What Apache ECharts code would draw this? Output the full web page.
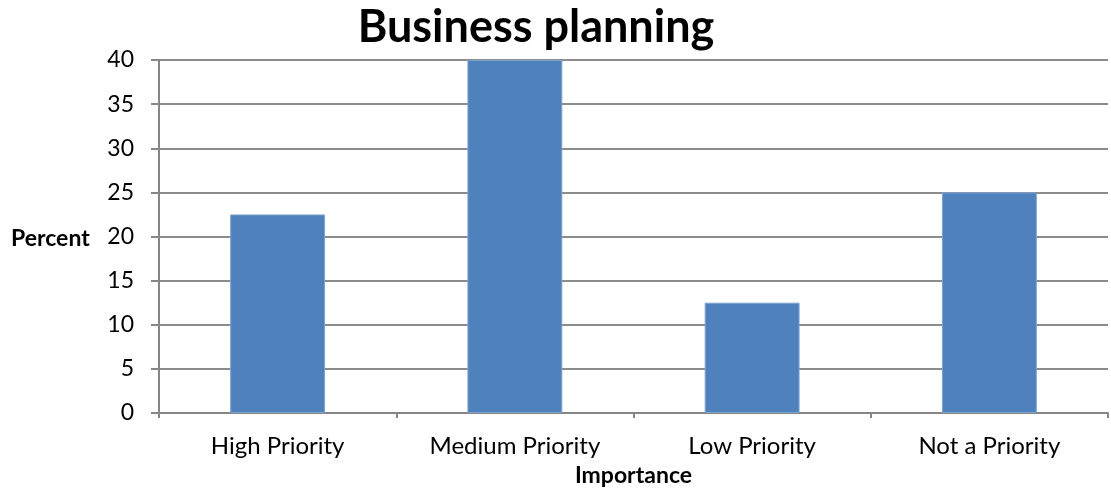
<!DOCTYPE html>
<html>
<head>
<meta charset="utf-8">
<script src="https://cdn.jsdelivr.net/npm/echarts@6/dist/echarts.min.js"></script>
<style>
  html, body { margin: 0; padding: 0; background: #fff; }
  #chart { width: 1111px; height: 497px; }
</style>
</head>
<body>
<div id="chart"></div>
<script>
const categories = ['High Priority', 'Medium Priority', 'Low Priority', 'Not a Priority'];
const percentValues = [22.5, 40, 12.5, 25];
const yTicks = { min: 0, max: 40, interval: 5 };

const FONT = 'Lato';
const chart = echarts.init(document.getElementById('chart'));

chart.setOption({
  animation: false,
  backgroundColor: '#ffffff',
  title: {
    text: 'Business planning',
    left: 531,
    top: 0,
    textAlign: 'center',
    textStyle: { fontFamily: FONT, fontSize: 45, fontWeight: 'bold', color: '#000' }
  },
  grid: { left: 159, right: 3, top: 60, bottom: 84, containLabel: false },
  xAxis: {
    type: 'category',
    data: categories,
    axisLine: { lineStyle: { color: '#868686', width: 2 } },
    axisTick: { show: true, alignWithLabel: false, length: 5, lineStyle: { color: '#868686', width: 2 } },
    axisLabel: { fontFamily: FONT, fontSize: 24, color: '#000', margin: 21 },
    name: 'Importance',
    nameLocation: 'middle',
    nameGap: 51,
    nameTextStyle: { fontFamily: FONT, fontSize: 23, fontWeight: 'bold', color: '#000' }
  },
  yAxis: {
    type: 'value',
    min: yTicks.min,
    max: yTicks.max,
    interval: yTicks.interval,
    axisLine: { show: true, lineStyle: { color: '#868686', width: 2 } },
    axisTick: { show: true, length: 8, lineStyle: { color: '#868686', width: 2 } },
    axisLabel: { fontFamily: FONT, fontSize: 23, color: '#000', margin: 25 },
    splitLine: { lineStyle: { color: '#8c8c8c', width: 2 } }
  },
  graphic: [{
    type: 'text',
    left: 11,
    top: 227,
    style: { text: 'Percent', font: 'bold 23px ' + FONT, fill: '#000' }
  }],
  series: [{
    type: 'bar',
    data: percentValues,
    barWidth: '40%',
    itemStyle: { color: '#4f81bd', borderColor: '#7fa3cf', borderWidth: 1 }
  }]
});
</script>
</body>
</html>
